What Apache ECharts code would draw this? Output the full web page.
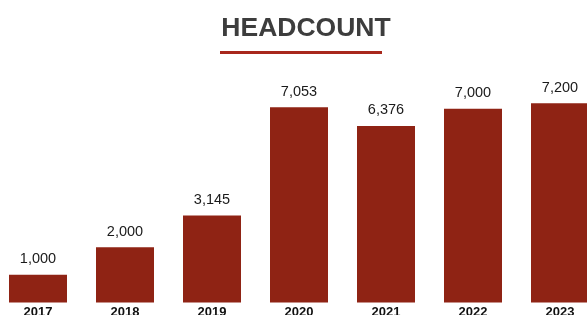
<!DOCTYPE html>
<html lang="en">
<head>
    <meta charset="UTF-8">
    <title>Headcount</title>
    <script src="https://cdn.jsdelivr.net/npm/echarts@6/dist/echarts.min.js"></script>
    <style>
        html, body { margin: 0; padding: 0; background: #fff; }
        #chart { width: 587px; height: 315px; }
    </style>
</head>
<body>
<div id="chart"></div>
<script type="text/javascript">
    // data
    let years = ['2017', '2018', '2019', '2020', '2021', '2022', '2023'];
    let headcount = [1000, 2000, 3145, 7053, 6376, 7000, 7200];

    let barColor = '#8f2314';

    let myChart = echarts.init(document.getElementById('chart'));

    let option = {
        backgroundColor: '#fff',
        animation: false,
        title: {
            text: 'HEADCOUNT',
            left: 301,
            top: 10,
            textAlign: 'center',
            textStyle: {
                fontFamily: 'Liberation Sans, Arial, sans-serif',
                fontSize: 26.5,
                fontWeight: 'bold',
                color: '#3d3d3d'
            }
        },
        graphic: [{
            type: 'rect',
            shape: { x: 220, y: 51, width: 162, height: 3 },
            style: { fill: '#a8281c' }
        }],
        grid: {
            left: -5.5,
            width: 609,
            top: 81,
            bottom: 12.5,
            containLabel: false,
            outerBoundsMode: 'none'
        },
        xAxis: {
            type: 'category',
            data: years,
            axisLine: { show: false },
            axisTick: { show: false },
            axisLabel: {
                margin: 3,
                fontFamily: 'Liberation Sans, Arial, sans-serif',
                fontSize: 13,
                fontWeight: 'bold',
                color: '#111'
            }
        },
        yAxis: {
            type: 'value',
            min: 0,
            max: 8000,
            show: false,
            splitLine: { show: false }
        },
        series: [{
            type: 'bar',
            data: headcount,
            barWidth: 58,
            itemStyle: { color: barColor },
            label: {
                show: true,
                position: 'top',
                distance: 8,
                fontFamily: 'Liberation Sans, Arial, sans-serif',
                fontSize: 14.5,
                color: '#1a1a1a',
                formatter: function (p) {
                    return p.value.toLocaleString('en-US');
                }
            }
        }]
    };

    myChart.setOption(option);
</script>
</body>
</html>
